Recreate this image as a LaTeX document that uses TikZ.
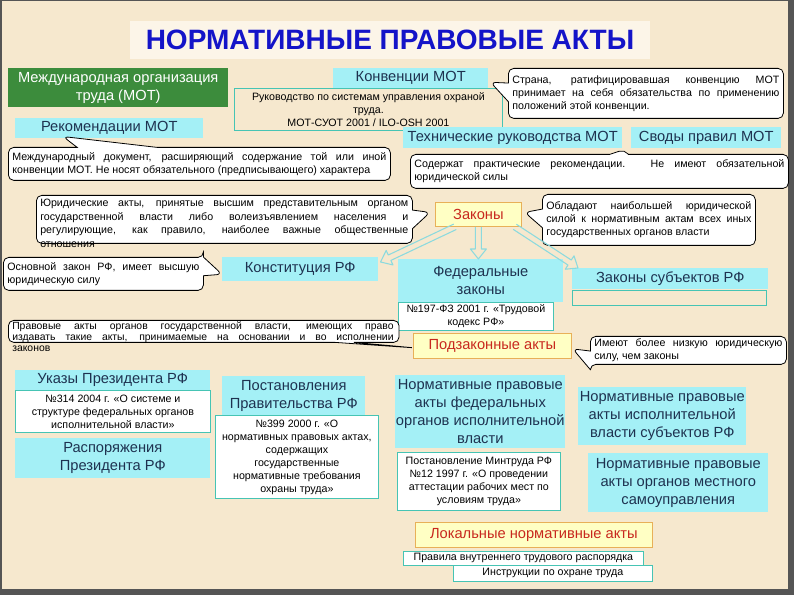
\documentclass[tikz,border=0pt]{standalone}
\usepackage{fontspec}
\setmainfont{Liberation Sans}
\usetikzlibrary{shapes.callouts,calc}
\definecolor{bg}{RGB}{246,232,206}
\definecolor{cy}{RGB}{164,240,246}
\definecolor{tl}{RGB}{70,196,180}
\definecolor{gr}{RGB}{60,140,60}
\definecolor{yl}{RGB}{255,255,196}
\definecolor{yb}{RGB}{232,176,88}
\definecolor{rd}{RGB}{200,40,30}
\definecolor{tx}{RGB}{30,50,80}
\definecolor{ttl}{RGB}{20,20,200}
\definecolor{arrc}{RGB}{140,218,222}
\definecolor{framec}{RGB}{85,85,85}
\definecolor{tbg}{RGB}{252,245,232}
\tikzset{
 big/.style={font=\fontsize{11}{13.5}\selectfont},
 small/.style={font=\fontsize{8}{9.75}\selectfont},
 sz/.style 2 args={minimum width=#1, minimum height=#2},
 lbl/.style={big, fill=cy, text=tx, align=center, inner sep=0pt, anchor=north west},
 sub/.style={small, draw=tl, line width=0.6pt, fill=white, text=black, align=center, inner sep=0pt, anchor=north west},
 frm/.style={draw=tl, line width=0.6pt, inner sep=0pt, anchor=north west},
 key/.style={big, fill=yl, draw=yb, line width=0.6pt, text=rd, inner sep=0pt, anchor=north west},
 co/.style={rectangle callout, small, draw=black, line width=0.6pt, fill=white, rounded corners=4pt, align=justify, inner xsep=3pt, inner ysep=0pt, anchor=north west, text=black, callout pointer width=14pt},
 cotext/.style={small, align=justify, inner sep=0pt, anchor=north west, text=black},
 harr/.style={draw=arrc, line width=0.8pt, line join=round},
}
\newcommand\hollowarrow[2]{%
 \draw[harr] ($(#1)!2.25pt!90:(#2)$) -- ($(#2)!7.5pt!(#1)!2.25pt!90:(#2)$)
  -- ($(#2)!7.5pt!(#1)!6pt!90:(#2)$) -- (#2)
  -- ($(#2)!7.5pt!(#1)!6pt!-90:(#2)$) -- ($(#2)!7.5pt!(#1)!2.25pt!-90:(#2)$)
  -- ($(#1)!2.25pt!-90:(#2)$);}
\begin{document}
\begin{tikzpicture}[x=0.75pt,y=-0.75pt]
\useasboundingbox (0,0) rectangle (794,595);
\fill[framec] (0,0) rectangle (794,595);
\fill[bg] (2,1) rectangle (788,589);
\node[fill=tbg, minimum width=390pt, minimum height=29pt, text=ttl, font=\fontsize{21}{24}\selectfont\bfseries] (title) at (390,40) {НОРМАТИВНЫЕ ПРАВОВЫЕ АКТЫ};
% labels
\node[lbl, fill=gr, text=white, sz={165pt}{29.25pt}] (mot) at (8,68) {Международная организация\\труда (МОТ)};
\node[lbl, sz={141pt}{15pt}] (rek) at (15,118) {Рекомендации МОТ};
\node[lbl, sz={116.25pt}{15pt}] (konv) at (333,68) {Конвенции МОТ};
\node[frm, small, align=center, text=black, sz={201pt}{31.5pt}] (ruk) at (234,88) {Руководство по системам управления охраной\\труда.\\МОТ-СУОТ 2001 / ILO-OSH 2001};
\node[lbl, sz={164.25pt}{15.75pt}] (tech) at (403,127) {Технические руководства МОТ};
\node[lbl, sz={112.5pt}{15.75pt}] (svod) at (631,127) {Своды правил МОТ};
\node[key, sz={64.5pt}{18pt}] (zak) at (435,202) {Законы};
\node[lbl, sz={117pt}{18pt}] (konst) at (222,257) {Конституция РФ};
\node[lbl, sz={123.75pt}{32.25pt}] (fed) at (398,259) {Федеральные\\законы};
\node[sub, sz={116.25pt}{21pt}] (tk) at (398,302) {№197-ФЗ 2001 г. «Трудовой\\кодекс РФ»};
\node[lbl, sz={147pt}{15.75pt}] (subj) at (572,268) {Законы субъектов РФ};
\node[frm, sz={145.5pt}{11.25pt}] (subjE) at (572,290) {};
\node[key, sz={118.5pt}{18.75pt}] (podz) at (413,333) {Подзаконные акты};
\node[lbl, sz={146.25pt}{15pt}] (ukaz) at (15,370) {Указы Президента РФ};
\node[sub, sz={146.25pt}{31.5pt}] (u314) at (15,390) {№314 2004 г. «О системе и\\структуре федеральных органов\\исполнительной власти»};
\node[lbl, sz={146.25pt}{30pt}] (rasp) at (15,438) {Распоряжения\\Президента РФ};
\node[lbl, sz={107.25pt}{30pt}] (post) at (222,376) {Постановления\\Правительства РФ};
\node[sub, sz={122.25pt}{62.25pt}] (p399) at (215,415) {№399 2000 г. «О\\нормативных правовых актах,\\содержащих\\государственные\\нормативные требования\\охраны труда»};
\node[lbl, sz={127.5pt}{54.75pt}] (npaf) at (395,375) {Нормативные правовые\\акты федеральных\\органов исполнительной\\власти};
\node[sub, sz={122.25pt}{43.5pt}] (mintr) at (397,452) {Постановление Минтруда РФ\\№12 1997 г. «О проведении\\аттестации рабочих мест по\\условиям труда»};
\node[lbl, sz={126pt}{43.5pt}] (npas) at (578,387) {Нормативные правовые\\акты исполнительной\\власти субъектов РФ};
\node[lbl, sz={135pt}{44.25pt}] (npam) at (588,453) {Нормативные правовые\\акты органов местного\\самоуправления};
\node[key, sz={177.75pt}{18.75pt}] (lok) at (415,522) {Локальные нормативные акты};
\node[sub, sz={180pt}{10.5pt}] (prav) at (403,551) {Правила внутреннего трудового распорядка};
\node[sub, sz={149.25pt}{12pt}] (instr) at (453,565) {Инструкции по охране труда};
% callouts
\node[co, text width=280.5pt, minimum height=24.75pt, callout pointer width=60pt, callout absolute pointer={($(rek.south west)+(48,-2)$)}] (crek) at (8,147) {Международный документ, расширяющий содержание той или иной\linebreak конвенции МОТ. Не носят обязательного (предписывающего) характера};
\node[co, text width=200.25pt, minimum height=37.5pt, callout absolute pointer={($(konv.east)+(2,4)$)}] (ckonv) at (508,68) {Страна, ратифицировавшая конвенцию МОТ\linebreak принимает на себя обязательства по применению\linebreak положений этой конвенции.};
\node[co, text width=277.5pt, minimum height=25.5pt, callout absolute pointer={($(tech.south east)+(2,1)$)}] (ctech) at (410,154) {Содержат практические рекомендации. Не имеют обязательной\linebreak юридической силы};
\node[co, minimum width=282pt, minimum height=36pt, callout absolute pointer={($(zak.west)+(-5,-2)$)}] (czakL) at (36,195) {};
\node[cotext, text width=276pt, font=\fontsize{8}{10.2}\selectfont] (tzakL) at (40,199) {Юридические акты, принятые высшим представительным органом\linebreak государственной власти либо волеизъявлением населения и\linebreak регулирующие, как правило, наиболее важные общественные\linebreak отношения};
\node[co, text width=153.75pt, minimum height=38.25pt, callout absolute pointer={($(zak.east)+(3,-2)$)}] (czakR) at (542,194) {Обладают наибольшей юридической\linebreak силой к нормативным актам всех иных\linebreak государственных органов власти};
\node[co, text width=144pt, minimum height=24.75pt, callout absolute pointer={($(konst.west)+(0,5)$)}] (ckonst) at (3,257) {Основной закон РФ, имеет высшую\linebreak юридическую силу};
\node[co, minimum width=293pt, minimum height=16.5pt, callout absolute pointer={($(podz.west)+(2,2)$)}] (cpodL) at (8,320) {};
\node[cotext, text width=286pt, font=\fontsize{7.8}{8.25}\selectfont] (tpodL) at (12,322) {Правовые акты органов государственной власти, имеющих право\linebreak издавать такие акты, принимаемые на основании и во исполнении\linebreak законов};
\node[co, text width=141pt, minimum height=21pt, callout absolute pointer={($(podz.east)+(1,3)$)}] (cpodR) at (590,336) {Имеют более низкую юридическую\linebreak силу, чем законы};
% arrows from Законы
\coordinate (aLs) at ($(zak.south west)+(20,0)$);
\coordinate (aLe) at ($(konst.north east)+(2,5)$);
\coordinate (aMs) at (zak.south);
\coordinate (aMe) at (zak.south |- fed.north);
\coordinate (aRs) at ($(zak.south east)+(-7,0)$);
\coordinate (aRe) at ($(subj.north west)+(6,0)$);
\hollowarrow{aLs}{aLe}
\hollowarrow{aMs}{aMe}
\hollowarrow{aRs}{aRe}
\end{tikzpicture}
\end{document}
